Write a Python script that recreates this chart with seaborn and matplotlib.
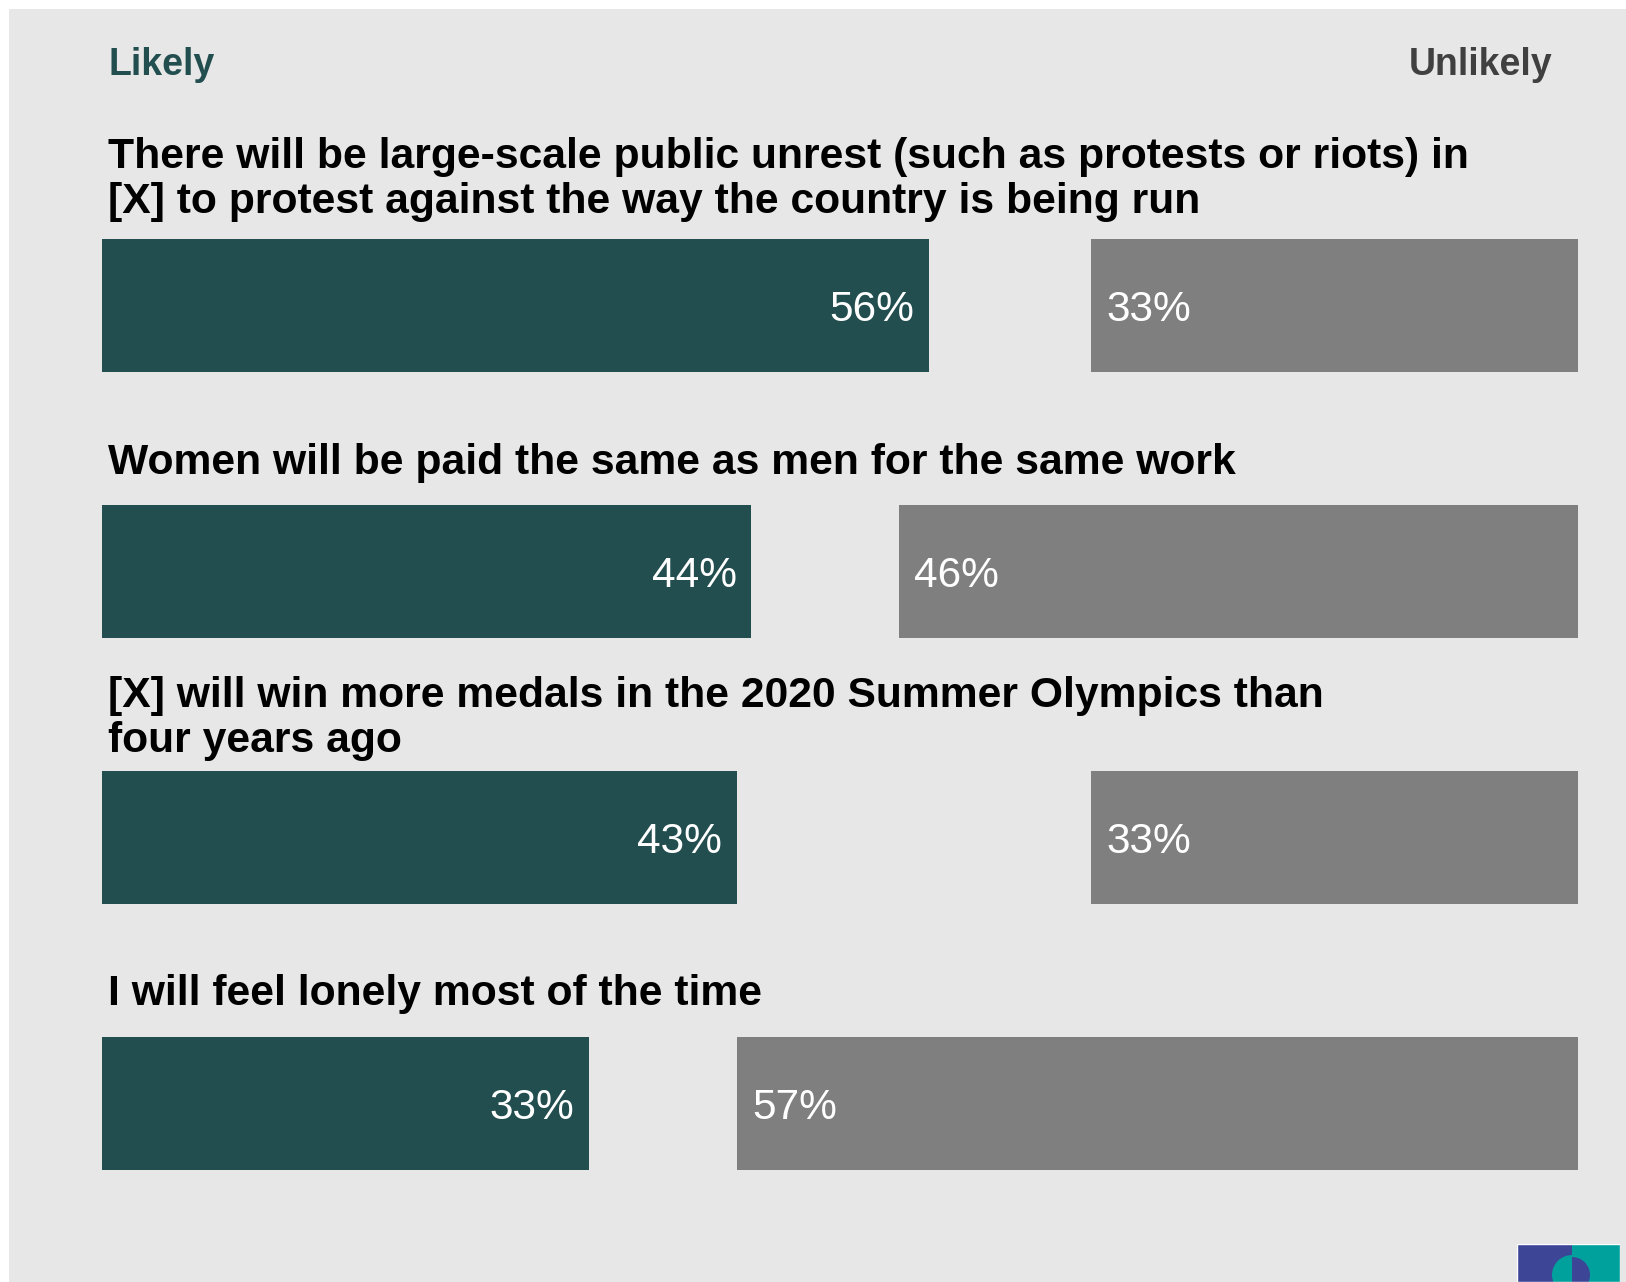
import matplotlib
matplotlib.use("Agg")
import matplotlib.pyplot as plt
from matplotlib.patches import Rectangle, Wedge
import pandas as pd
import seaborn as sns

# Survey statements and the share answering likely / unlikely (%)
questions = [
    "There will be large-scale public unrest (such as protests or riots) in\n"
    "[X] to protest against the way the country is being run",
    "Women will be paid the same as men for the same work",
    "[X] will win more medals in the 2020 Summer Olympics than\nfour years ago",
    "I will feel lonely most of the time",
]
likely = [56, 44, 43, 33]
unlikely = [33, 46, 33, 57]

# Gap between each statement and the top of its bars (in bar-row units)
title_gap = [0.063, 0.083, 0.036, 0.087]

TEAL = "#224E4F"
GREY = "#7F7F7F"
BG = "#E7E7E7"

sns.set_theme(style="white")
plt.rcParams["font.family"] = ["Liberation Sans", "DejaVu Sans"]

W, H = 1626, 1282
fig = plt.figure(figsize=(W / 100, H / 100), dpi=100, facecolor="white")
fig.patches.append(Rectangle((9 / W, 0), 1 - 9 / W, 1 - 9 / H,
                             transform=fig.transFigure, facecolor=BG,
                             edgecolor="none", zorder=-5))

df = pd.DataFrame({"question": questions, "Likely": likely, "Unlikely": unlikely})

ax = fig.add_axes([102 / W, 1 - 1236.5 / H, 1476 / W, 1064 / H])
ax.set_facecolor("none")
sns.barplot(data=df, x="Likely", y="question", color=TEAL, saturation=1,
            width=0.5, linewidth=0, ax=ax)
ax.set_xlim(0, 100)

# Unlikely bars grow from the right-hand side on a reversed twin axis
ax2 = ax.twiny()
sns.barplot(data=df, x="Unlikely", y="question", color=GREY, saturation=1,
            width=0.5, linewidth=0, ax=ax2)
ax2.set_xlim(100, 0)

for a in (ax, ax2):
    a.set(xlabel="", ylabel="", xticks=[], yticks=[])
    for s in a.spines.values():
        s.set_visible(False)

labs = ax.bar_label(ax.containers[0], fmt="{:.0f}%", padding=-10.5,
                    color="white", fontsize=30.5)
for t in labs:
    t.set_ha("right")
    t.xyann = (t.xyann[0], -3)
labs2 = ax2.bar_label(ax2.containers[0], fmt="{:.0f}%", padding=-11,
                      color="white", fontsize=30.5)
for t in labs2:
    t.set_ha("left")
    t.xyann = (t.xyann[0], -3)

# Statement text above each pair of bars
for i, (q, g) in enumerate(zip(questions, title_gap)):
    ax.text(0.4, i - 0.25 - g, q, ha="left", va="bottom",
            fontsize=30.7, fontweight="bold", color="black",
            linespacing=1.17)

fig.text(108 / W, 1 - 65 / H, "Likely", ha="left", va="center",
         fontsize=27, fontweight="bold", color=TEAL)
fig.text(1552 / W, 1 - 65 / H, "Unlikely", ha="right", va="center",
         fontsize=27, fontweight="bold", color="#404040")

# Small logo mark in the bottom-right corner
lax = fig.add_axes([1517 / W, 0, 103 / W, 38 / H])
lax.set_xlim(0, 103)
lax.set_ylim(0, 38)
lax.axis("off")
lax.add_patch(Rectangle((0, 0), 55, 38, facecolor="#3D4597", edgecolor="none"))
lax.add_patch(Rectangle((55, 0), 48, 38, facecolor="#00A19D", edgecolor="none"))
lax.add_patch(Wedge((55, 7), 20, 90, 270, facecolor="#00A19D", edgecolor="none"))
lax.add_patch(Wedge((55, 7), 18, -90, 90, facecolor="#3D4597", edgecolor="none"))
lax.add_patch(Rectangle((0, 0), 103, 38, facecolor="none", edgecolor="white",
                        linewidth=1))

fig.savefig("out.png", dpi=100, facecolor=fig.get_facecolor())
